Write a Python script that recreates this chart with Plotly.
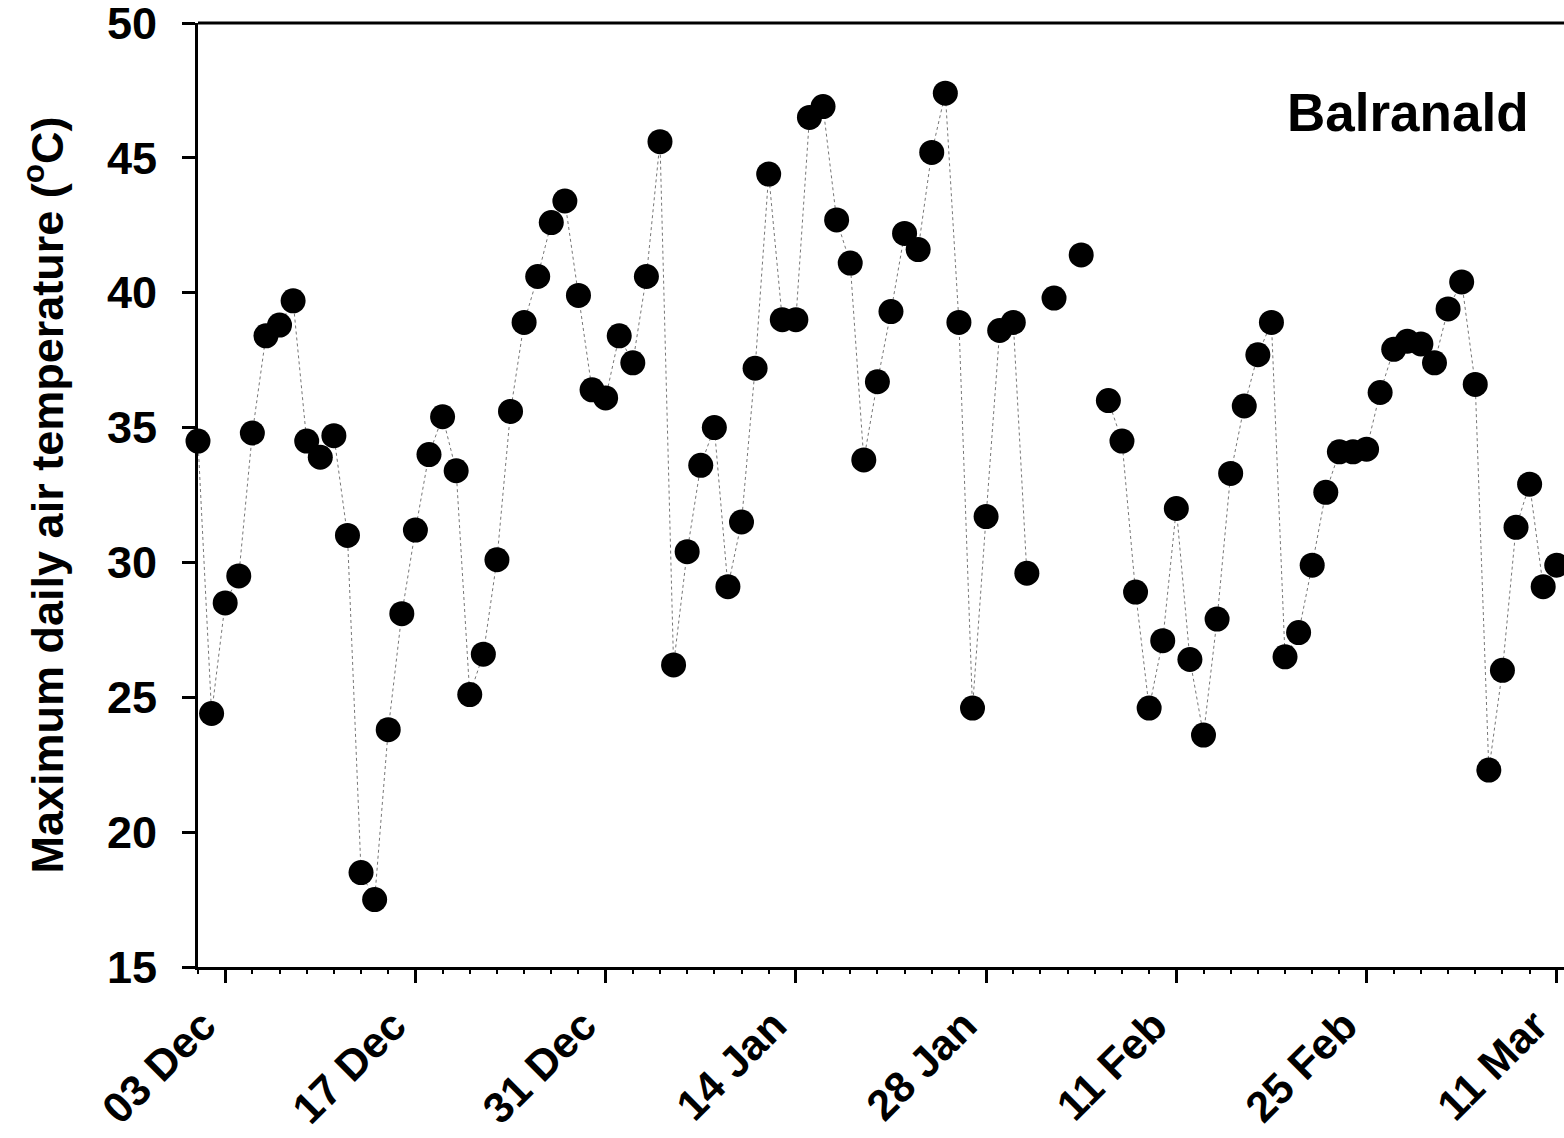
import plotly.graph_objects as go

dates = [
    "2008-12-01", "2008-12-02", "2008-12-03", "2008-12-04", "2008-12-05", "2008-12-06", "2008-12-07",
    "2008-12-08", "2008-12-09", "2008-12-10", "2008-12-11", "2008-12-12", "2008-12-13", "2008-12-14",
    "2008-12-15", "2008-12-16", "2008-12-17", "2008-12-18", "2008-12-19", "2008-12-20", "2008-12-21",
    "2008-12-22", "2008-12-23", "2008-12-24", "2008-12-25", "2008-12-26", "2008-12-27", "2008-12-28",
    "2008-12-29", "2008-12-30", "2008-12-31", "2009-01-01", "2009-01-02", "2009-01-03", "2009-01-04",
    "2009-01-05", "2009-01-06", "2009-01-07", "2009-01-08", "2009-01-09", "2009-01-10", "2009-01-11",
    "2009-01-12", "2009-01-13", "2009-01-14", "2009-01-15", "2009-01-16", "2009-01-17", "2009-01-18",
    "2009-01-19", "2009-01-20", "2009-01-21", "2009-01-22", "2009-01-23", "2009-01-24", "2009-01-25",
    "2009-01-26", "2009-01-27", "2009-01-28", "2009-01-29", "2009-01-30", "2009-01-31", "2009-02-01",
    "2009-02-02", "2009-02-03", "2009-02-04", "2009-02-05", "2009-02-06", "2009-02-07", "2009-02-08",
    "2009-02-09", "2009-02-10", "2009-02-11", "2009-02-12", "2009-02-13", "2009-02-14", "2009-02-15",
    "2009-02-16", "2009-02-17", "2009-02-18", "2009-02-19", "2009-02-20", "2009-02-21", "2009-02-22",
    "2009-02-23", "2009-02-24", "2009-02-25", "2009-02-26", "2009-02-27", "2009-02-28", "2009-03-01",
    "2009-03-02", "2009-03-03", "2009-03-04", "2009-03-05", "2009-03-06", "2009-03-07", "2009-03-08",
    "2009-03-09", "2009-03-10", "2009-03-11",
]

tmax = [
    34.5, 24.4, 28.5, 29.5, 34.8, 38.4, 38.8,
    39.7, 34.5, 33.9, 34.7, 31.0, 18.5, 17.5,
    23.8, 28.1, 31.2, 34.0, 35.4, 33.4, 25.1,
    26.6, 30.1, 35.6, 38.9, 40.6, 42.6, 43.4,
    39.9, 36.4, 36.1, 38.4, 37.4, 40.6, 45.6,
    26.2, 30.4, 33.6, 35.0, 29.1, 31.5, 37.2,
    44.4, 39.0, 39.0, 46.5, 46.9, 42.7, 41.1,
    33.8, 36.7, 39.3, 42.2, 41.6, 45.2, 47.4,
    38.9, 24.6, 31.7, 38.6, 38.9, 29.6, None,
    39.8, None, 41.4, None, 36.0, 34.5, 28.9,
    24.6, 27.1, 32.0, 26.4, 23.6, 27.9, 33.3,
    35.8, 37.7, 38.9, 26.5, 27.4, 29.9, 32.6,
    34.1, 34.1, 34.2, 36.3, 37.9, 38.2, 38.1,
    37.4, 39.4, 40.4, 36.6, 22.3, 26.0, 31.3,
    32.9, 29.1, 29.9,
]

site_label = "Balranald"
y_title = "Maximum daily air temperature (<sup>o</sup>C)"

FONT = "Liberation Sans, Arial, sans-serif"
DAY_MS = 86400000

fig = go.Figure()
fig.add_trace(go.Scatter(
    x=dates, y=tmax, mode="lines+markers",
    connectgaps=False,
    line=dict(color="#777777", width=1, dash="dot"),
    marker=dict(color="black", size=25, line=dict(width=0)),
    cliponaxis=False,
    showlegend=False,
))

fig.update_layout(
    width=1564, height=1138,
    margin=dict(l=198, r=0, t=23, b=171),
    paper_bgcolor="white", plot_bgcolor="white",
    font=dict(family=FONT, color="black", size=40, weight="bold"),
    xaxis=dict(
        type="date", automargin=False,
        range=["2008-12-01", "2009-03-11 12:45"],
        tick0="2008-12-03", dtick=14 * DAY_MS,
        tickformat="%d %b", tickangle=-45,
        ticks="outside", ticklen=13, tickwidth=3, tickcolor="black",
        showline=True, linewidth=3, linecolor="black",
        showgrid=False, zeroline=False,
        ticklabeloverflow="allow",
        ticklabelstandoff=0, ticklabelshift=-22,
        tickfont=dict(family=FONT, size=43, weight="bold"),
        minor=dict(tick0="2008-12-03", dtick=2 * DAY_MS, ticks="outside",
                   ticklen=4, tickwidth=2, tickcolor="black", showgrid=False),
    ),
    yaxis=dict(
        automargin=False,
        range=[15, 50], tick0=15, dtick=5,
        ticks="outside", ticklen=13, tickwidth=3, tickcolor="black",
        showline=True, linewidth=3, linecolor="black",
        showgrid=False, zeroline=False,
        ticklabeloverflow="allow",
        ticklabelstandoff=16,
        tickfont=dict(family=FONT, size=45, weight="bold"),
        title=dict(text=y_title, font=dict(family=FONT, size=45, weight="bold"), standoff=30),
    ),
    shapes=[dict(type="line", xref="paper", yref="paper", x0=0, x1=1, y0=1, y1=1,
                 line=dict(color="black", width=3))],
    annotations=[dict(text=site_label, xref="paper", yref="paper", x=0.886, y=0.905,
                      xanchor="center", yanchor="middle", showarrow=False,
                      font=dict(family=FONT, size=53, weight="bold"))],
)

fig.write_html("out.html")
